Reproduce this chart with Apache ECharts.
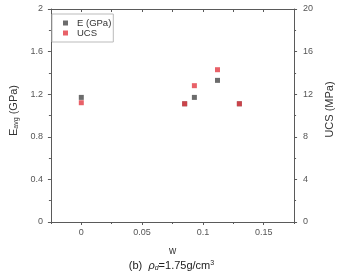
<!DOCTYPE html>
<html><head><meta charset="utf-8">
<script src="https://cdn.jsdelivr.net/npm/echarts@6/dist/echarts.min.js"></script>
<style>html,body{margin:0;padding:0;background:#fff}#c{width:343px;height:273px}</style>
</head><body><div id="c"></div>
<script>
var wValues = [0, 0.085, 0.093, 0.112, 0.13];
var eValues = [1.17, 1.11, 1.17, 1.33, 1.11];
var ucsValues = [11.2, 11.1, 12.8, 14.3, 11.1];
var xTickLabels = [0, 0.05, 0.1, 0.15];
var seriesNames = ['E (GPa)', 'UCS'];

var axisColor = '#5a5a5a';
var labelColor = '#555';
var font = 'Liberation Sans, Arial, sans-serif';

function pairs(xs, ys){ return xs.map(function(x,i){ return [x, ys[i]]; }); }

var chart = echarts.init(document.getElementById('c'));
chart.setOption({
  animation: false,
  textStyle: {fontFamily: font},
  grid: {left: 45, right: 33, top: 9, bottom: 51},
  legend: {
    left: 52, top: 14, orient: 'vertical',
    borderColor: '#bbb', borderWidth: 1,
    padding: [4, 2, 4, 11],
    itemWidth: 5, itemHeight: 5, itemGap: 0,
    textStyle: {fontSize: 9.5, color: '#333', fontFamily: font, padding: [0,0,0,4], lineHeight: 10},
    data: seriesNames.map(function(n){ return {name: n, icon: 'rect'}; })
  },
  xAxis: [
    {
      type: 'value', min: -0.025, max: 0.175, position: 'bottom',
      name: 'w', nameLocation: 'middle', nameGap: 24,
      nameTextStyle: {fontSize: 10, color: '#333', fontFamily: font},
      axisLine: {show: true, onZero: false, lineStyle: {color: axisColor, width: 1}},
      axisTick: {show: true, inside: false, length: 3, lineStyle: {color: axisColor}, customValues: xTickLabels},
      axisLabel: {fontSize: 9, color: labelColor, margin: 6, customValues: xTickLabels,
        formatter: function(v){ return String(Math.round(v*1000)/1000); }},
      splitLine: {show: false}
    },
    {
      type: 'value', min: -0.025, max: 0.175, interval: 0.025, position: 'bottom',
      axisLine: {show: false, onZero: false},
      axisTick: {show: true, inside: false, length: 2, lineStyle: {color: axisColor}},
      axisLabel: {show: false}, splitLine: {show: false}
    },
    {
      type: 'value', min: -0.025, max: 0.175, interval: 0.025, position: 'top',
      axisLine: {show: true, onZero: false, lineStyle: {color: axisColor, width: 1}},
      axisTick: {show: true, inside: true, length: 3, lineStyle: {color: axisColor}},
      axisLabel: {show: false}, splitLine: {show: false}
    }
  ],
  yAxis: [
    {
      type: 'value', min: 0, max: 2, interval: 0.4, position: 'left',
      name: '{a|E}{s|avg}{a| (GPa)}', nameLocation: 'middle', nameGap: 27, nameRotate: 90,
      nameTextStyle: {color: '#333', fontFamily: font, padding: [0,0,0,10],
        rich: {a: {fontSize: 11, color: '#333', fontFamily: font}, s: {fontSize: 7, color: '#333', fontFamily: font, verticalAlign: 'bottom', padding: [5,0,0,0]}}},
      axisLine: {show: true, onZero: false, lineStyle: {color: axisColor, width: 1}},
      axisTick: {show: true, inside: false, length: 3, lineStyle: {color: axisColor}},
      minorTick: {show: true, splitNumber: 2, length: 2, lineStyle: {color: axisColor}},
      axisLabel: {fontSize: 9, color: labelColor, margin: 8},
      splitLine: {show: false}, minorSplitLine: {show: false}
    },
    {
      type: 'value', min: 0, max: 20, interval: 4, position: 'right',
      name: 'UCS (MPa)', nameLocation: 'middle', nameGap: 22, nameRotate: 90,
      nameTextStyle: {fontSize: 11, color: '#333', fontFamily: font, padding: [0,0,0,12]},
      axisLine: {show: true, onZero: false, lineStyle: {color: axisColor, width: 1}},
      axisTick: {show: true, inside: false, length: 3, lineStyle: {color: axisColor}},
      minorTick: {show: true, splitNumber: 2, length: 2, lineStyle: {color: axisColor}},
      axisLabel: {fontSize: 9, color: labelColor, margin: 9},
      splitLine: {show: false}, minorSplitLine: {show: false}
    }
  ],
  graphic: [{
    type: 'text', left: 'center', top: 260,
    style: {
      text: '{n|(b)  }{i|ρ}{s|d}{n|=1.75g/cm}{p|3}',
      rich: {
        n: {fontSize: 11, fill: '#222', fontFamily: font},
        i: {fontSize: 11, fill: '#222', fontStyle: 'italic', fontFamily: font},
        s: {fontSize: 7, fill: '#222', fontStyle: 'italic', fontFamily: font, verticalAlign: 'bottom', padding: [5,0,0,0]},
        p: {fontSize: 7, fill: '#222', fontFamily: font, verticalAlign: 'top', padding: [0,0,5,0]}
      }
    }
  }],
  series: [
    {
      name: seriesNames[0], type: 'scatter', xAxisIndex: 0, yAxisIndex: 0,
      symbol: 'rect', symbolSize: 5,
      itemStyle: {color: '#474747'},
      data: pairs(wValues, eValues), z: 2
    },
    {
      name: seriesNames[1], type: 'scatter', xAxisIndex: 0, yAxisIndex: 1,
      symbol: 'rect', symbolSize: 5,
      itemStyle: {color: '#e23a42'},
      data: pairs(wValues, ucsValues), z: 3
    }
  ]
});
</script></body></html>
